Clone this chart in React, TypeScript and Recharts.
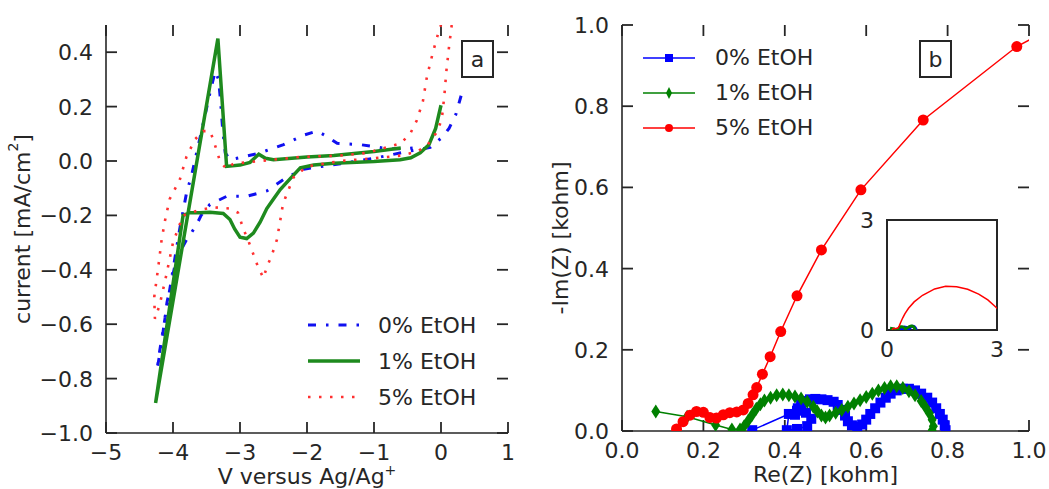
import React from 'react';
import { LineChart, Line, XAxis, YAxis, Legend, ReferenceArea, ReferenceLine } from 'recharts';

const FONT = '"DejaVu Sans", "Liberation Sans", sans-serif';
const FS = 22;
const INK = '#262626';
const TICK = 11;

type P = [number, number];
const pts = (a: P[]) => a.map(([x, y]) => ({ x, y }));

// panel a: cyclic voltammograms, [V vs Ag/Ag+, mA/cm²] in scan order
const cv0: P[] = [
  [0.3, 0.24], [0.22, 0.17], [0.12, 0.12], [0.03, 0.09], [-0.16, 0.05], [-0.5, 0.035],
  [-1.0, 0.01], [-1.5, -0.01], [-2.05, -0.03], [-2.3, -0.06], [-2.6, -0.11], [-2.9, -0.13],
  [-3.2, -0.13], [-3.45, -0.16], [-3.58, -0.2], [-3.66, -0.24], [-3.8, -0.29], [-3.95, -0.36],
  [-4.09, -0.52], [-4.17, -0.67], [-4.24, -0.77], [-4.2, -0.7], [-4.1, -0.55], [-4.0, -0.4],
  [-3.9, -0.25], [-3.8, -0.12], [-3.72, -0.05], [-3.62, 0.06], [-3.52, 0.17], [-3.44, 0.26],
  [-3.37, 0.33], [-3.32, 0.3], [-3.29, 0.22], [-3.26, 0.12], [-3.22, 0.03], [-3.15, 0.005],
  [-2.95, 0.015], [-2.7, 0.03], [-2.35, 0.06], [-2.05, 0.095], [-1.85, 0.11], [-1.7, 0.09],
  [-1.55, 0.065], [-1.2, 0.06], [-0.8, 0.045], [-0.55, 0.045], [-0.35, 0.05],
];
const cv1: P[] = [
  [0.0, 0.205], [-0.08, 0.12], [-0.18, 0.06], [-0.31, 0.03], [-0.45, 0.012], [-0.61, 0.005],
  [-1.0, -0.002], [-1.6, -0.008], [-1.9, -0.015], [-2.1, -0.025], [-2.25, -0.065], [-2.4, -0.105],
  [-2.5, -0.14], [-2.6, -0.175], [-2.7, -0.225], [-2.8, -0.265], [-2.9, -0.285], [-3.0, -0.28],
  [-3.08, -0.25], [-3.15, -0.215], [-3.25, -0.193], [-3.45, -0.188], [-3.6, -0.19], [-3.75, -0.19],
  [-3.85, -0.2], [-4.26, -0.89], [-3.33, 0.45], [-3.2, -0.02], [-3.0, -0.015], [-2.85, -0.005],
  [-2.72, 0.025], [-2.62, 0.01], [-2.5, 0.005], [-2.0, 0.015], [-1.6, 0.02], [-1.0, 0.035],
  [-0.6, 0.048],
];
const cv5: P[] = [
  [0.16, 0.5], [0.12, 0.42], [0.08, 0.33], [0.05, 0.24], [0.01, 0.15], [-0.08, 0.1],
  [-0.2, 0.06], [-0.35, 0.035], [-0.6, 0.02], [-1.0, 0.01], [-1.5, 0.0], [-2.0, -0.02],
  [-2.2, -0.06], [-2.3, -0.12], [-2.36, -0.16], [-2.4, -0.22], [-2.45, -0.29], [-2.53, -0.35],
  [-2.6, -0.39], [-2.65, -0.43], [-2.73, -0.39], [-2.79, -0.35], [-2.88, -0.29], [-2.95, -0.25],
  [-3.03, -0.19], [-3.15, -0.175], [-3.4, -0.17], [-3.6, -0.18], [-3.85, -0.2], [-4.0, -0.3],
  [-4.1, -0.42], [-4.2, -0.53], [-4.27, -0.58], [-4.28, -0.5], [-4.22, -0.39], [-4.17, -0.29],
  [-4.12, -0.22], [-4.05, -0.14], [-3.9, -0.07], [-3.8, 0.015], [-3.67, 0.08], [-3.55, 0.11],
  [-3.45, 0.11], [-3.4, 0.08], [-3.3, 0.0], [-3.2, -0.03], [-3.1, -0.01], [-2.5, 0.005],
  [-2.1, 0.015], [-1.5, 0.02], [-1.1, 0.03], [-0.6, 0.065], [-0.46, 0.1], [-0.36, 0.15],
  [-0.27, 0.22], [-0.21, 0.31], [-0.12, 0.4], [-0.03, 0.48], [0.0, 0.5],
];

// panel b: Nyquist plots, [Re(Z), -Im(Z)] in kohm
const eis0: P[] = [
  [0.32, 0.002], [0.41, 0.042], [0.405, 0.002], [0.43, 0.005], [0.455, 0.012], [0.465, 0.03],
  [0.452, 0.045], [0.43, 0.05], [0.425, 0.04], [0.432, 0.056], [0.44, 0.066], [0.45, 0.074],
  [0.462, 0.078], [0.475, 0.079], [0.49, 0.078],
  [0.505, 0.076], [0.52, 0.072], [0.53, 0.064], [0.54, 0.052], [0.548, 0.038], [0.555, 0.024],
  [0.565, 0.014], [0.578, 0.01], [0.59, 0.016], [0.6, 0.028], [0.61, 0.042], [0.622, 0.056],
  [0.635, 0.07], [0.648, 0.082], [0.66, 0.092], [0.675, 0.1], [0.69, 0.104], [0.705, 0.104],
  [0.72, 0.1], [0.735, 0.092], [0.75, 0.082], [0.762, 0.07], [0.772, 0.056], [0.781, 0.042],
  [0.788, 0.028], [0.793, 0.014], [0.795, 0.002],
];
const eis1: P[] = [
  [0.083, 0.048], [0.16, 0.035], [0.23, 0.015], [0.27, 0.004], [0.29, 0.004], [0.3, 0.012],
  [0.31, 0.025], [0.32, 0.04], [0.33, 0.055], [0.34, 0.066], [0.35, 0.075], [0.365, 0.082],
  [0.38, 0.088], [0.395, 0.09], [0.41, 0.088], [0.425, 0.085], [0.44, 0.08], [0.455, 0.072],
  [0.47, 0.06], [0.48, 0.048], [0.49, 0.038], [0.5, 0.033], [0.51, 0.038], [0.525, 0.045],
  [0.54, 0.052], [0.555, 0.06], [0.57, 0.068], [0.585, 0.076], [0.6, 0.084], [0.615, 0.092],
  [0.63, 0.1], [0.645, 0.106], [0.66, 0.11], [0.675, 0.11], [0.69, 0.106], [0.705, 0.098],
  [0.72, 0.088], [0.735, 0.074], [0.745, 0.06], [0.755, 0.044], [0.762, 0.028], [0.765, 0.012],
  [0.762, 0.002],
];
const eis5: P[] = [
  [0.134, 0.005], [0.15, 0.023], [0.167, 0.039], [0.183, 0.048], [0.2, 0.046], [0.216, 0.033],
  [0.232, 0.032], [0.249, 0.04], [0.265, 0.045], [0.282, 0.047], [0.298, 0.052], [0.31, 0.068],
  [0.322, 0.089], [0.331, 0.107], [0.345, 0.14], [0.364, 0.183], [0.39, 0.245], [0.43, 0.333],
  [0.49, 0.446], [0.587, 0.594], [0.74, 0.766], [0.97, 0.947],
];
// low-frequency part of 5% EtOH, only inside the inset range
const eis5Tail: P[] = [
  [1.3, 1.12], [1.6, 1.19], [1.9, 1.18], [2.2, 1.11], [2.5, 0.98], [2.75, 0.82], [2.95, 0.64], [3.05, 0.55],
];

const NAMES = ['0% EtOH', '1% EtOH', '5% EtOH'];
const cvXTicks = [-5, -4, -3, -2, -1, 0, 1];
const cvYTicks = [-1, -0.8, -0.6, -0.4, -0.2, 0, 0.2, 0.4];
const eisTicks = [0, 0.2, 0.4, 0.6, 0.8, 1];
const insetTicks = [0, 3];

const CV_STYLE: any = {
  '0% EtOH': { stroke: '#1010f0', strokeWidth: 3, strokeDasharray: '8 10 2.5 10' },
  '1% EtOH': { stroke: '#1e8a1e', strokeWidth: 3.5 },
  '5% EtOH': { stroke: '#ff3030', strokeWidth: 2.6, strokeDasharray: '2.5 8.5' },
};
const EIS_COLOR: any = { '0% EtOH': '#0000ff', '1% EtOH': '#008000', '5% EtOH': '#ff0000' };

const num = (v: number, d: number) => (v < 0 ? '\u2212' : '') + Math.abs(v).toFixed(d);
const txt = { fontFamily: FONT, fontSize: FS, fill: INK };

function labelFn(side: string, digits: number) {
  return (p: any) => {
    const { x, y, payload } = p;
    const s = num(payload.value, digits);
    if (side === 'bottom') return <text x={x} y={y + 27} textAnchor="middle" {...txt}>{s}</text>;
    return <text x={x - 13} y={y + 8} textAnchor="end" {...txt}>{s}</text>;
  };
}

// inward tick marks at both ends of a reference line (matplotlib classic frame)
const TickPair = (p: any) => {
  const { x1, y1, x2, y2 } = p;
  const d = Math.hypot(x2 - x1, y2 - y1) || 1;
  const ux = ((x2 - x1) / d) * TICK;
  const uy = ((y2 - y1) / d) * TICK;
  return (
    <g>
      <line x1={x1} y1={y1} x2={x1 + ux} y2={y1 + uy} stroke={INK} strokeWidth={1.8} />
      <line x1={x2} y1={y2} x2={x2 - ux} y2={y2 - uy} stroke={INK} strokeWidth={1.8} />
    </g>
  );
};

const xTitle = (text: React.ReactNode) => (p: any) => {
  const vb = p.viewBox;
  return (
    <text x={vb.x + vb.width / 2} y={vb.y + 51} textAnchor="middle" {...txt}>{text}</text>
  );
};
const yTitle = (text: React.ReactNode, dx: number, dy = 0) => (p: any) => {
  const vb = p.viewBox;
  const cx = vb.x + dx;
  const cy = vb.y + vb.height / 2 + dy;
  return (
    <text x={cx} y={cy} transform={`rotate(-90 ${cx} ${cy})`} textAnchor="middle" dominantBaseline="central" {...txt}>
      {text}
    </text>
  );
};

const Square = (p: any) => <rect key={`s${p.index}`} x={p.cx - 5} y={p.cy - 5} width={10} height={10} fill={EIS_COLOR['0% EtOH']} />;
const Diamond = (p: any) => (
  <polygon
    key={`d${p.index}`}
    points={`${p.cx},${p.cy - 7} ${p.cx + 4.5},${p.cy} ${p.cx},${p.cy + 7} ${p.cx - 4.5},${p.cy}`}
    fill={EIS_COLOR['1% EtOH']}
  />
);
const Circle = (p: any) => <circle key={`c${p.index}`} cx={p.cx} cy={p.cy} r={5.5} fill={EIS_COLOR['5% EtOH']} />;

const CvLegend = ({ payload }: any) => (
  <div style={{ fontFamily: FONT, fontSize: FS, color: INK }}>
    {(payload || []).map((e: any) => (
      <div key={e.value} style={{ display: 'flex', alignItems: 'center', height: 36 }}>
        <svg width={52} height={10}>
          <line x1={0} x2={52} y1={5} y2={5} {...CV_STYLE[e.value]} />
        </svg>
        <span style={{ marginLeft: 18, whiteSpace: 'nowrap' }}>{e.value}</span>
      </div>
    ))}
  </div>
);

const EisLegend = ({ payload }: any) => (
  <div style={{ fontFamily: FONT, fontSize: FS, color: INK }}>
    {(payload || []).map((e: any, i: number) => {
      const c = EIS_COLOR[e.value];
      return (
        <div key={e.value} style={{ display: 'flex', alignItems: 'center', height: 35 }}>
          <svg width={52} height={14}>
            <line x1={0} x2={52} y1={7} y2={7} stroke={c} strokeWidth={1.5} />
            {i === 0 && <rect x={22} y={3} width={8} height={8} fill={c} />}
            {i === 1 && <polygon points="26,1 29,7 26,13 23,7" fill={c} />}
            {i === 2 && <circle cx={26} cy={7} r={4} fill={c} />}
          </svg>
          <span style={{ marginLeft: 20, whiteSpace: 'nowrap' }}>{e.value}</span>
        </div>
      );
    })}
  </div>
);

const boxStyle: React.CSSProperties = {
  position: 'absolute', top: 40, width: 29, height: 34, border: `2px solid ${INK}`,
  fontFamily: FONT, fontSize: FS, color: INK, display: 'flex', alignItems: 'center', justifyContent: 'center',
  background: '#fff',
};

const axisLine = { stroke: INK, strokeWidth: 1.6 };
const base = { interval: 0 as const, tickSize: 0, tickMargin: 0, axisLine, tickLine: false, stroke: INK };

export default function App() {
  const cvSeries = [cv0, cv1, cv5];
  const eisSeries = [eis0, eis1, [...eis5, ...eis5Tail]];
  const markers = [Square, Diamond, Circle];
  return (
    <div style={{ position: 'absolute', left: 0, top: 0, width: 1049, height: 489, background: '#fff' }}>
      <div style={{ position: 'absolute', left: 0, top: 0 }}>
        <LineChart width={530} height={489} margin={{ top: 25, right: 22, bottom: 0, left: 10 }}>
          <XAxis dataKey="x" type="number" domain={[-5, 1]} ticks={cvXTicks} allowDataOverflow height={56}
            {...base} tick={labelFn('bottom', 0)}
            label={xTitle(<>V versus Ag/Ag<tspan dy={-9} fontSize={14}>+</tspan></>)} />
          <XAxis xAxisId="top" orientation="top" type="number" domain={[-5, 1]} height={0} {...base} tick={false} />
          <YAxis type="number" domain={[-1, 0.5]} ticks={cvYTicks} allowDataOverflow width={96}
            {...base} tick={labelFn('left', 1)}
            label={yTitle(<>current [mA/cm<tspan dy={-9} fontSize={14}>2</tspan><tspan dy={9}>]</tspan></>, 12)} />
          <YAxis yAxisId="right" orientation="right" type="number" domain={[-1, 0.5]} width={0} {...base} tick={false} />
          {cvXTicks.map((v) => <ReferenceLine key={`tx${v}`} x={v} shape={TickPair} />)}
          {cvYTicks.map((v) => <ReferenceLine key={`ty${v}`} y={v} shape={TickPair} />)}
          {cvSeries.map((s, i) => (
            <Line key={NAMES[i]} name={NAMES[i]} data={pts(s)} dataKey="y" type="linear" dot={false} activeDot={false}
              isAnimationActive={false} {...CV_STYLE[NAMES[i]]} />
          ))}
          <Legend layout="horizontal" verticalAlign="middle" align="center" content={<CvLegend />}
            wrapperStyle={{ position: 'absolute', left: 308, top: 307, width: 200, height: 110 }} />
        </LineChart>
        <div style={{ ...boxStyle, left: 461 }}>a</div>
      </div>

      <div style={{ position: 'absolute', left: 530, top: 0 }}>
        <LineChart width={519} height={489} margin={{ top: 25, right: 20, bottom: 0, left: 10 }}>
          <XAxis dataKey="x" type="number" domain={[0, 1]} ticks={eisTicks} allowDataOverflow height={58}
            {...base} tick={labelFn('bottom', 1)} label={xTitle('Re(Z) [kohm]')} />
          <XAxis xAxisId="top" orientation="top" type="number" domain={[0, 1]} height={0} {...base} tick={false} />
          <YAxis type="number" domain={[0, 1]} ticks={eisTicks} allowDataOverflow width={82}
            {...base} tick={labelFn('left', 1)} label={yTitle('-Im(Z) [kohm]', 20, 10)} />
          <YAxis yAxisId="right" orientation="right" type="number" domain={[0, 1]} width={0} {...base} tick={false} />
          {eisTicks.map((v) => <ReferenceLine key={`tx${v}`} x={v} shape={TickPair} />)}
          {eisTicks.map((v) => <ReferenceLine key={`ty${v}`} y={v} shape={TickPair} />)}
          {eisSeries.map((s, i) => (
            <Line key={NAMES[i]} name={NAMES[i]} data={pts(s)} dataKey="y" type="linear"
              stroke={EIS_COLOR[NAMES[i]]} strokeWidth={1.5} dot={markers[i]} activeDot={false}
              isAnimationActive={false} />
          ))}
          <Legend layout="horizontal" verticalAlign="middle" align="center" content={<EisLegend />}
            wrapperStyle={{ position: 'absolute', left: 113, top: 40, width: 200, height: 110 }} />
        </LineChart>
        <div style={{ ...boxStyle, left: 389 }}>b</div>
      </div>

      <div style={{ position: 'absolute', left: 850, top: 200 }}>
        <LineChart width={160} height={170} margin={{ top: 20, right: 13, bottom: 0, left: 0 }}>
          <XAxis dataKey="x" type="number" domain={[0, 3]} ticks={insetTicks} allowDataOverflow height={40}
            {...base} axisLine={false} tick={labelFn('bottom', 0)} />
          <YAxis type="number" domain={[0, 3]} ticks={insetTicks} allowDataOverflow width={37}
            {...base} axisLine={false} tick={labelFn('left', 0)} />
          <ReferenceArea x1={0} x2={3} y1={0} y2={3} fill="#fff" fillOpacity={1} stroke={INK} strokeWidth={2} ifOverflow="visible" />
          {eisSeries.map((s, i) => (
            <Line key={NAMES[i]} name={NAMES[i]} data={pts(s)} dataKey="y" type="linear"
              stroke={EIS_COLOR[NAMES[i]]} strokeWidth={i === 2 ? 1.5 : 3} dot={false} activeDot={false}
              isAnimationActive={false} />
          ))}
        </LineChart>
      </div>
    </div>
  );
}
